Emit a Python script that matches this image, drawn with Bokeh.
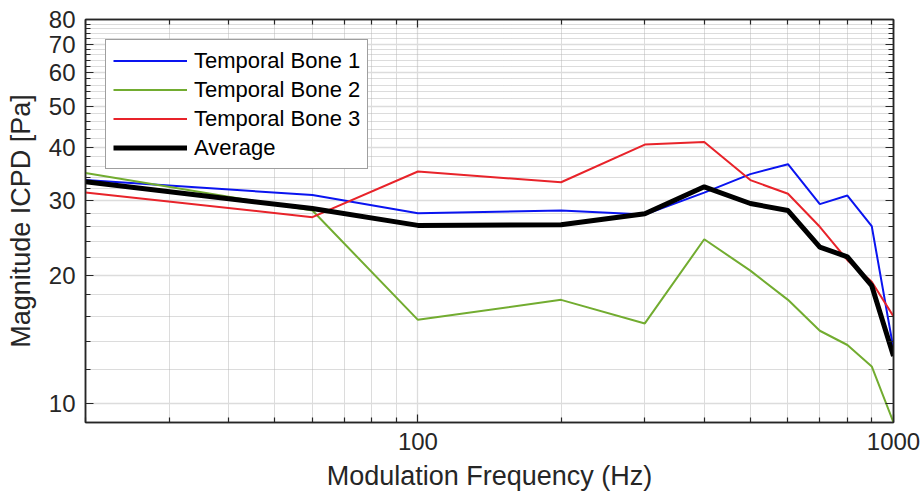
from bokeh.plotting import figure
from bokeh.models import (FixedTicker, LogAxis, Legend, LegendItem,
                          CustomJSTickFormatter, Range1d)
from bokeh.embed import file_html
from bokeh.resources import INLINE

# Modulation frequencies (Hz) and ICPD magnitudes (Pa)
freq = [20, 60, 100, 200, 300, 400, 500, 600, 700, 800, 900, 1000]
bone1 = [33.5, 30.9, 28.0, 28.4, 27.8, 31.3, 34.6, 36.5, 29.4, 30.8, 26.1, 13.4]
bone2 = [34.8, 28.4, 15.7, 17.5, 15.4, 24.3, 20.5, 17.5, 14.8, 13.7, 12.2, 9.0]
bone3 = [31.3, 27.4, 35.1, 33.1, 40.6, 41.2, 33.5, 31.1, 26.0, 21.7, 19.3, 16.0]
average = [33.2, 28.7, 26.2, 26.3, 27.9, 32.3, 29.5, 28.4, 23.3, 22.1, 18.9, 12.9]

x_major = [100, 1000]
x_minor = [20, 30, 40, 50, 60, 70, 80, 90, 200, 300, 400, 500, 600, 700, 800, 900]
y_major = [10, 20, 30, 40, 50, 60, 70, 80]
y_minor = [v for v in range(10, 81, 2) if v % 10 != 0]

FONT = "Liberation Sans"
AX = "#262626"

p = figure(width=923, height=498, x_axis_type="log", y_axis_type="log",
           x_range=Range1d(20, 1000), y_range=Range1d(9, 80),
           output_backend="svg", toolbar_location=None,
           min_border_left=85, min_border_right=30,
           min_border_top=19, min_border_bottom=76)
p.background_fill_color = "white"
p.border_fill_color = "white"
p.outline_line_color = AX
p.outline_line_width = 1.5

xt = FixedTicker(ticks=x_major, minor_ticks=x_minor)
yt = FixedTicker(ticks=y_major, minor_ticks=y_minor)
plain = CustomJSTickFormatter(code="return tick.toFixed(0);")
blank = CustomJSTickFormatter(code="return '';")


def style_axis(ax, ticker):
    ax.ticker = ticker
    ax.axis_line_color = AX
    ax.axis_line_width = 1.5
    ax.major_tick_in = 8
    ax.major_tick_out = 0
    ax.minor_tick_in = 5
    ax.minor_tick_out = 0
    ax.major_tick_line_color = AX
    ax.minor_tick_line_color = AX
    ax.major_tick_line_width = 1.2
    ax.minor_tick_line_width = 1.2
    ax.major_label_text_font = FONT
    ax.major_label_text_font_size = "24px"
    ax.major_label_text_color = AX
    ax.axis_label_text_font = FONT
    ax.axis_label_text_font_size = "27px"
    ax.axis_label_text_font_style = "normal"
    ax.axis_label_text_color = AX


xa = p.xaxis[0]
ya = p.yaxis[0]
style_axis(xa, xt)
style_axis(ya, yt)
xa.formatter = plain
ya.formatter = plain
xa.axis_label = "Modulation Frequency (Hz)"
ya.axis_label = "Magnitude ICPD [Pa]"
xa.major_label_standoff = 10
xa.axis_label_standoff = 8
ya.major_label_standoff = 10
ya.axis_label_standoff = 10

for side, ticker in (("above", xt), ("right", yt)):
    ax = LogAxis()
    style_axis(ax, ticker)
    ax.formatter = blank
    ax.major_label_standoff = 0
    p.add_layout(ax, side)

for g, ticker in ((p.xgrid[0], xt), (p.ygrid[0], yt)):
    g.ticker = ticker
    g.grid_line_color = "#dcdcdc"
    g.grid_line_width = 1.3
    g.minor_grid_line_color = "#b0b0b0"
    g.minor_grid_line_dash = "1 1"
    g.minor_grid_line_width = 0.9

r1 = p.line(freq, bone1, line_color="#0a14f0", line_width=2)
r2 = p.line(freq, bone2, line_color="#72ac30", line_width=2)
r3 = p.line(freq, bone3, line_color="#e8232a", line_width=2)
r4 = p.line(freq, average, line_color="black", line_width=5)

legend = Legend(items=[
    LegendItem(label="Temporal Bone 1", renderers=[r1]),
    LegendItem(label="Temporal Bone 2", renderers=[r2]),
    LegendItem(label="Temporal Bone 3", renderers=[r3]),
    LegendItem(label="Average", renderers=[r4]),
], location="top_left")
legend.margin = 20
legend.padding = 7
legend.spacing = 2
legend.glyph_width = 74
legend.glyph_height = 27
legend.label_height = 27
legend.label_standoff = 7
legend.label_text_font = FONT
legend.label_text_font_size = "22px"
legend.label_text_color = "black"
legend.border_line_color = "#404040"
legend.border_line_width = 1.5
legend.background_fill_color = "white"
legend.background_fill_alpha = 1
p.add_layout(legend)

open("out.html", "w").write(file_html(p, INLINE))
